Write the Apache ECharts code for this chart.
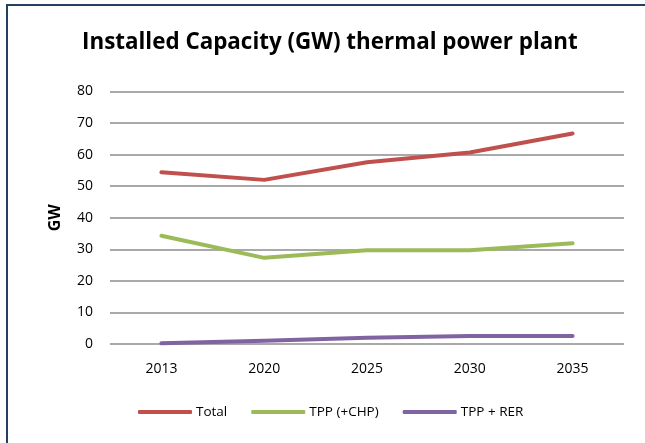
<!DOCTYPE html>
<html>
<head>
<meta charset="utf-8">
<script src="https://cdn.jsdelivr.net/npm/echarts@6/dist/echarts.min.js"></script>
<style>
html,body{margin:0;padding:0;background:#fff;}
#frame{position:absolute;left:6px;top:4px;width:639px;height:439px;border-left:2px solid #243F60;border-top:2px solid #243F60;box-sizing:border-box;}
#chart{position:absolute;left:0;top:0;width:645px;height:443px;}
</style>
</head>
<body>
<div id="frame"></div>
<div id="chart"></div>
<script>
var categories = ['2013', '2020', '2025', '2030', '2035'];
var totalValues = [54.4, 52.0, 57.6, 60.7, 66.7];
var tppChpValues = [34.3, 27.3, 29.7, 29.7, 31.9];
var tppRerValues = [0.2, 1.0, 2.0, 2.5, 2.5];
var yTicks = [0, 10, 20, 30, 40, 50, 60, 70, 80];

var font = 'Open Sans, Liberation Sans, sans-serif';
var chart = echarts.init(document.getElementById('chart'), null, {renderer: 'canvas'});
function series(name, data, color) {
  return {
    name: name, type: 'line', data: data, symbol: 'none',
    lineStyle: {color: color, width: 4, cap: 'round', join: 'round'},
    itemStyle: {color: color}
  };
}
chart.setOption({
  animation: false,
  backgroundColor: 'transparent',
  title: {
    text: 'Installed Capacity (GW) thermal power plant',
    left: 82, top: 32, padding: 0,
    textStyle: {fontFamily: font, fontSize: 22.4, fontWeight: 'bold', color: '#000'}
  },
  grid: {left: 110, right: 21, top: 91.5, bottom: 99, containLabel: false},
  legend: {
    bottom: 19, left: 133, itemWidth: 54, itemHeight: 4, itemGap: 24,
    icon: 'roundRect',
    textStyle: {fontFamily: font, fontSize: 13.5, color: '#000', padding: [0, 0, 0, -1]},
    data: ['Total', 'TPP (+CHP)', 'TPP + RER']
  },
  xAxis: {
    type: 'category', data: categories, boundaryGap: true,
    axisLine: {show: false}, axisTick: {show: false},
    axisLabel: {fontFamily: font, fontSize: 14, color: '#000', margin: 18}
  },
  yAxis: {
    type: 'value', min: yTicks[0], max: yTicks[yTicks.length - 1], interval: 10,
    name: 'GW', nameLocation: 'middle', nameGap: 47, nameRotate: 90,
    nameTextStyle: {fontFamily: font, fontSize: 16, fontWeight: 'bold', color: '#000'},
    axisLine: {show: false}, axisTick: {show: false},
    axisLabel: {fontFamily: font, fontSize: 14, color: '#000', margin: 17},
    splitLine: {lineStyle: {color: '#8C8C8C', width: 1.5}}
  },
  series: [
    series('Total', totalValues, '#C0504D'),
    series('TPP (+CHP)', tppChpValues, '#9BBB59'),
    series('TPP + RER', tppRerValues, '#8064A2')
  ]
});
</script>
</body>
</html>
